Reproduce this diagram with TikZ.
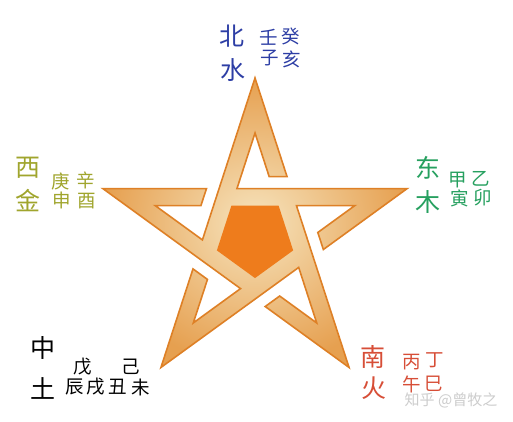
\documentclass[tikz,border=0pt]{standalone}
\usepackage{fontspec}
\newfontfamily\cjk{Noto Sans CJK SC}
\usetikzlibrary{calc}
\definecolor{edgeC}{RGB}{222,128,38}
\definecolor{gLight}{RGB}{246,228,190}
\definecolor{gDark}{RGB}{230,160,80}
\definecolor{coreC}{RGB}{238,124,28}
\definecolor{waterC}{RGB}{45,62,165}
\definecolor{metalC}{RGB}{160,165,45}
\definecolor{woodC}{RGB}{38,160,95}
\definecolor{fireC}{RGB}{215,78,55}
\definecolor{markC}{RGB}{205,205,205}
\begin{document}
\begin{tikzpicture}[x=1pt,y=-1pt,
  big/.style={inner sep=0pt,font=\cjk\fontsize{25}{25}\selectfont},
  small/.style={inner sep=0pt,font=\cjk\fontsize{18.5}{18.5}\selectfont}]
\useasboundingbox (0,0) rectangle (513,422);
\fill[white] (0,0) rectangle (513,422);
% star geometry
\coordinate (C) at (255,238);
\coordinate (T) at (255,78);
\coordinate (R) at (407.17,188.56);
\coordinate (L) at (102.83,188.56);
\coordinate (BR) at (349.05,367.44);
\coordinate (BL) at (160.95,367.44);
\foreach \p in {T,R,L,BR,BL}{
  \coordinate (\p i) at ($(C)!0.6562!(\p)$);
  \coordinate (\p g) at ($(C)!1.2427!(\p)$);
}
% outline of the ribbon star
\path[draw=edgeC, line width=1.6pt, line join=miter, inner color=gLight, outer color=gDark]
  (T)
  -- (intersection of T--BR and Lg--Rg)
  -- (intersection of Ti--BRi and Lg--Rg)
  -- (intersection of Ti--BLi and Ti--BRi)
  -- (intersection of Ti--BLi and L--R)
  -- (R)
  -- (intersection of R--BL and Tg--BRg)
  -- (intersection of Ri--BLi and Tg--BRg)
  -- (intersection of Li--Ri and Ri--BLi)
  -- (intersection of Li--Ri and T--BR)
  -- (BR)
  -- (intersection of L--BR and Rg--BLg)
  -- (intersection of Li--BRi and Rg--BLg)
  -- (intersection of Ti--BRi and Li--BRi)
  -- (intersection of Ti--BRi and R--BL)
  -- (BL)
  -- (intersection of T--BL and Lg--BRg)
  -- (intersection of Ti--BLi and Lg--BRg)
  -- (intersection of Ri--BLi and Ti--BLi)
  -- (intersection of Ri--BLi and L--BR)
  -- (L)
  -- (intersection of L--R and Tg--BLg)
  -- (intersection of Li--Ri and Tg--BLg)
  -- (intersection of Li--BRi and Li--Ri)
  -- (intersection of Li--BRi and T--BL)
  -- cycle;
% central pentagon
\fill[coreC]
  (intersection of Ti--BRi and Li--Ri)
  -- (intersection of Ti--BRi and Ri--BLi)
  -- (intersection of Li--BRi and Ri--BLi)
  -- (intersection of Ti--BLi and Li--BRi)
  -- (intersection of Ti--BLi and Li--Ri)
  -- cycle;
% North - water
\node[big,text=waterC] (bei) at (232,36) {北};
\node[big,text=waterC] (shui) at (233,70) {水};
\node[small,text=waterC] (ren) at (269,37) {壬};
\node[small,text=waterC] (gui) at (291,36) {癸};
\node[small,text=waterC] (zi) at (270,58) {子};
\node[small,text=waterC] (hai) at (292,59) {亥};
% West - metal
\node[big,text=metalC] (xi) at (28,168) {西};
\node[big,text=metalC] (jin) at (28,201) {金};
\node[small,text=metalC] (geng) at (61,181) {庚};
\node[small,text=metalC] (xin) at (86,180) {辛};
\node[small,text=metalC] (shen) at (62,200) {申};
\node[small,text=metalC] (you) at (87,201) {酉};
% East - wood
\node[big,text=woodC] (dong) at (428,168) {东};
\node[big,text=woodC] (mu) at (428,202) {木};
\node[small,text=woodC] (jia) at (458,180) {甲};
\node[small,text=woodC] (yi) at (481,179) {乙};
\node[small,text=woodC] (yin) at (460,198) {寅};
\node[small,text=woodC] (mao) at (483,198) {卯};
% Centre - earth
\node[big,text=black] (zhong) at (43,348) {中};
\node[big,text=black] (tu) at (43,388) {土};
\node[small,text=black] (wu1) at (83,367) {戊};
\node[small,text=black] (ji) at (131,367) {己};
\node[small,text=black] (chen) at (75,387) {辰};
\node[small,text=black] (xu) at (96,387) {戌};
\node[small,text=black] (chou) at (118,387) {丑};
\node[small,text=black] (wei) at (141,387) {未};
% South - fire
\node[big,text=fireC] (nan) at (373,357) {南};
\node[big,text=fireC] (huo) at (374,388) {火};
\node[small,text=fireC] (bing) at (412,362) {丙};
\node[small,text=fireC] (ding) at (435,360) {丁};
\node[small,text=fireC] (wu2) at (412,384) {午};
\node[small,text=fireC] (si) at (434,384) {巳};
% watermark
\node[inner sep=0pt,text=markC,font=\cjk\fontsize{15}{15}\selectfont] (mark) at (451,400) {知乎 @曾牧之};
\end{tikzpicture}
\end{document}
